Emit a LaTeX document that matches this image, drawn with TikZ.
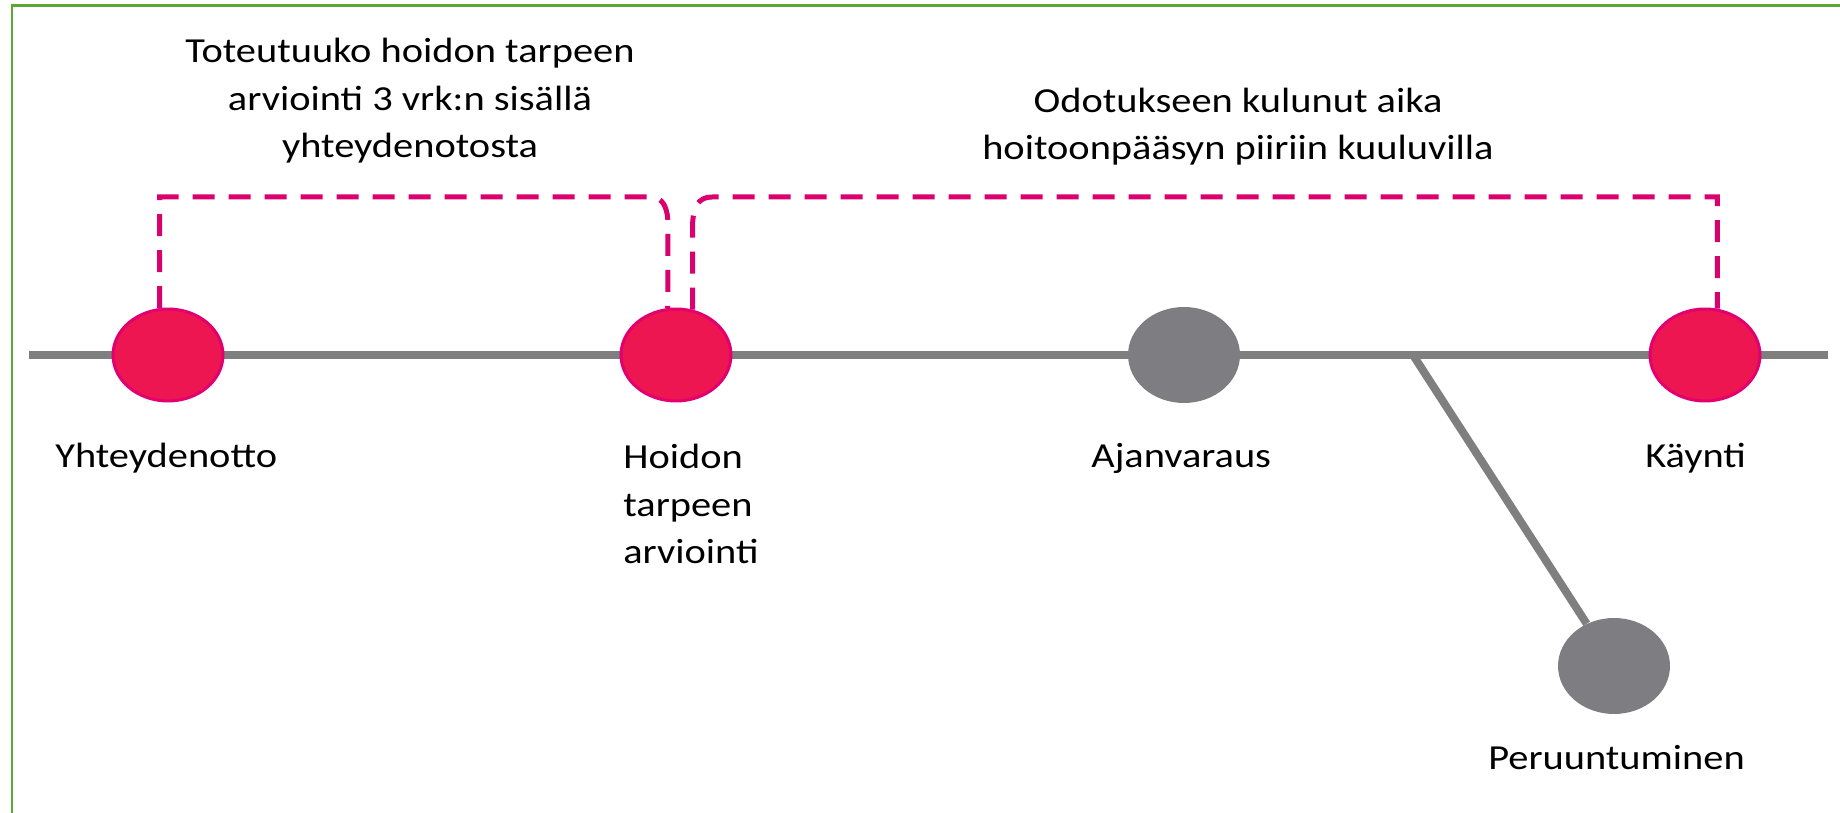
\documentclass[tikz,border=0pt]{standalone}
\usepackage{fontspec}
\setmainfont{Carlito}[FakeStretch=1.15]
\usetikzlibrary{shapes.geometric}
\definecolor{frameg}{RGB}{92,166,50}
\definecolor{lineg}{RGB}{127,127,127}
\definecolor{dotg}{RGB}{125,125,130}
\definecolor{redfill}{RGB}{237,22,80}
\definecolor{redborder}{RGB}{226,0,112}
\definecolor{dashc}{RGB}{218,0,110}
\tikzset{
  reddot/.style={ellipse, draw=redborder, line width=0.06cm, fill=redfill, minimum width=2.2cm, minimum height=1.84cm, inner sep=0},
  greydot/.style={ellipse, fill=dotg, minimum width=2.24cm, minimum height=1.92cm, inner sep=0},
  track/.style={draw=lineg, line width=0.16cm},
  bracket/.style={draw=dashc, line width=0.1cm, dash pattern=on 0.44cm off 0.28cm},
  lbl/.style={inner sep=0, font=\fontsize{20pt}{27.3pt}\selectfont, text=black},
}
\begin{document}
\begin{tikzpicture}[x=0.02cm, y=-0.02cm]
\useasboundingbox (0,0) rectangle (1840,813);
\fill[white] (0,0) rectangle (1840,813);
\draw[draw=frameg, line width=0.06cm] (12,813) -- (12,6) -- (1840,6);

% track
\coordinate (tl) at (29,355);
\coordinate (tr) at (1828,355);
\coordinate (br) at (1413,355);
\path[track] (tl) -- (tr);

% dots
\node[reddot] (e1) at (168,355) {};
\node[reddot] (e2) at (676,355) {};
\node[greydot] (e3) at (1184,355) {};
\node[reddot] (e4) at (1705,355) {};
\node[greydot] (e5) at (1614,666) {};
\path[track] (br) -- (e5);

% brackets
\draw[bracket] (e1.100) |- (650,197) .. controls (663,197) and (668,207) .. (668,226) -- (e2.100);
\draw[bracket] (e2.70) -- (e2.70 |- 0,226) .. controls (693,207) and (698,197) .. (712,197) -| (e4.75);

% labels
\node[lbl, anchor=base, align=center] (q1) at (410,158) {Toteutuuko hoidon tarpeen\\arviointi 3 vrk:n sisällä\\yhteydenotosta};
\node[lbl, anchor=base, align=center] (q2) at (1238,160) {Odotukseen kulunut aika\\hoitoonpääsyn piiriin kuuluvilla};
\node[lbl, anchor=base west] (l1) at (55,468) {Yhteydenotto};
\node[lbl, anchor=base west, align=left] (l2) at (623,564) {Hoidon\\tarpeen\\arviointi};
\node[lbl, anchor=base west] (l3) at (1091,468) {Ajanvaraus};
\node[lbl, anchor=base west] (l4) at (1645,468) {Käynti};
\node[lbl, anchor=base west] (l5) at (1488,770) {Peruuntuminen};
\end{tikzpicture}
\end{document}
